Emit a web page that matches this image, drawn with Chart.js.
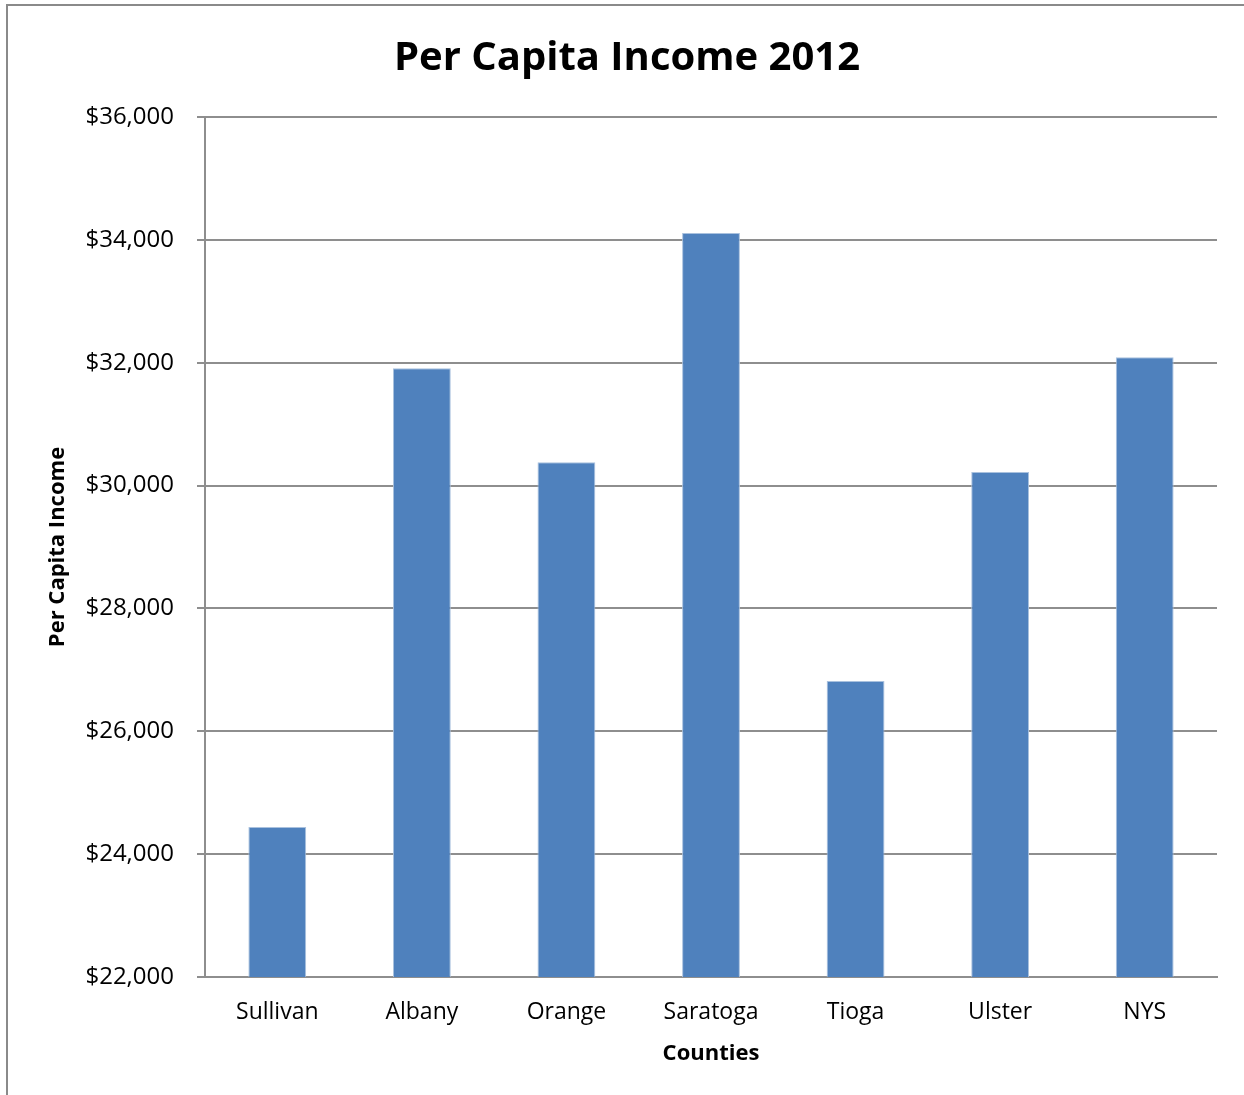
<!DOCTYPE html>
<html>
<head>
<meta charset="utf-8">
<script src="https://cdn.jsdelivr.net/npm/chart.js@4/dist/chart.umd.min.js"></script>
<style>
  html, body { margin: 0; padding: 0; background: #fff; }
  #wrap { position: relative; width: 1244px; height: 1095px; overflow: hidden; }
  #frame { position: absolute; left: 6px; top: 4px; width: 1400px; height: 1200px;
           border-top: 2px solid #8a8a8a; border-left: 2px solid #8a8a8a; pointer-events: none; }
  canvas { position: absolute; left: 0; top: 0; }
</style>
</head>
<body>
<div id="wrap">
  <canvas id="chart" width="1244" height="1095"></canvas>
  <div id="frame"></div>
</div>
<script>
// Per capita income by county, 2012
const counties = ["Sullivan", "Albany", "Orange", "Saratoga", "Tioga", "Ulster", "NYS"];
const perCapitaIncome = [24440, 31910, 30380, 34110, 26820, 30220, 32090];
const yTickMin = 22000;
const yTickMax = 36000;
const yTickStep = 2000;

const FONT = "'Open Sans', Lato, 'DejaVu Sans', sans-serif";
const GRID = "#8e8e8e";

new Chart(document.getElementById("chart"), {
  type: "bar",
  data: {
    labels: counties,
    datasets: [{
      label: "Per Capita Income",
      data: perCapitaIncome,
      backgroundColor: "#4f81bd",
      borderColor: "#a9c1de",
      borderWidth: 1,
      barPercentage: 0.4,
      categoryPercentage: 1.0
    }]
  },
  options: {
    responsive: false,
    animation: false,
    events: [],
    layout: { padding: { left: 37, right: 27, top: 0, bottom: 0 } },
    plugins: {
      legend: { display: false },
      tooltip: { enabled: false },
      title: {
        display: true,
        text: "Per Capita Income 2012",
        color: "#000",
        font: { family: FONT, size: 40, weight: "bold", lineHeight: 1.2 },
        padding: { top: 35, bottom: 34 }
      }
    },
    scales: {
      x: {
        grid: { display: false, drawTicks: false },
        border: { display: true, color: GRID, width: 2 },
        ticks: { color: "#000", font: { family: FONT, size: 23 }, padding: 22, maxRotation: 0 },
        title: {
          display: true,
          text: "Counties",
          color: "#000",
          font: { family: FONT, size: 22, weight: "bold", lineHeight: 1.2 },
          padding: { top: 0, bottom: 28 }
        },
        afterFit: (scale) => { scale.height = 118; }
      },
      y: {
        min: yTickMin,
        max: yTickMax,
        grid: { color: GRID, lineWidth: 2, drawTicks: true, tickLength: 8, tickColor: GRID },
        border: { display: true, color: GRID, width: 2 },
        ticks: {
          stepSize: yTickStep,
          color: "#000",
          font: { family: FONT, size: 24 },
          padding: 23,
          callback: (v) => "$" + Number(v).toLocaleString("en-US")
        },
        title: {
          display: true,
          text: "Per Capita Income",
          color: "#000",
          font: { family: FONT, size: 22, weight: "bold", lineHeight: 1.2 },
          padding: { top: 8, bottom: 0 }
        },
        afterFit: (scale) => { scale.width = 168; }
      }
    }
  }
});
</script>
</body>
</html>
